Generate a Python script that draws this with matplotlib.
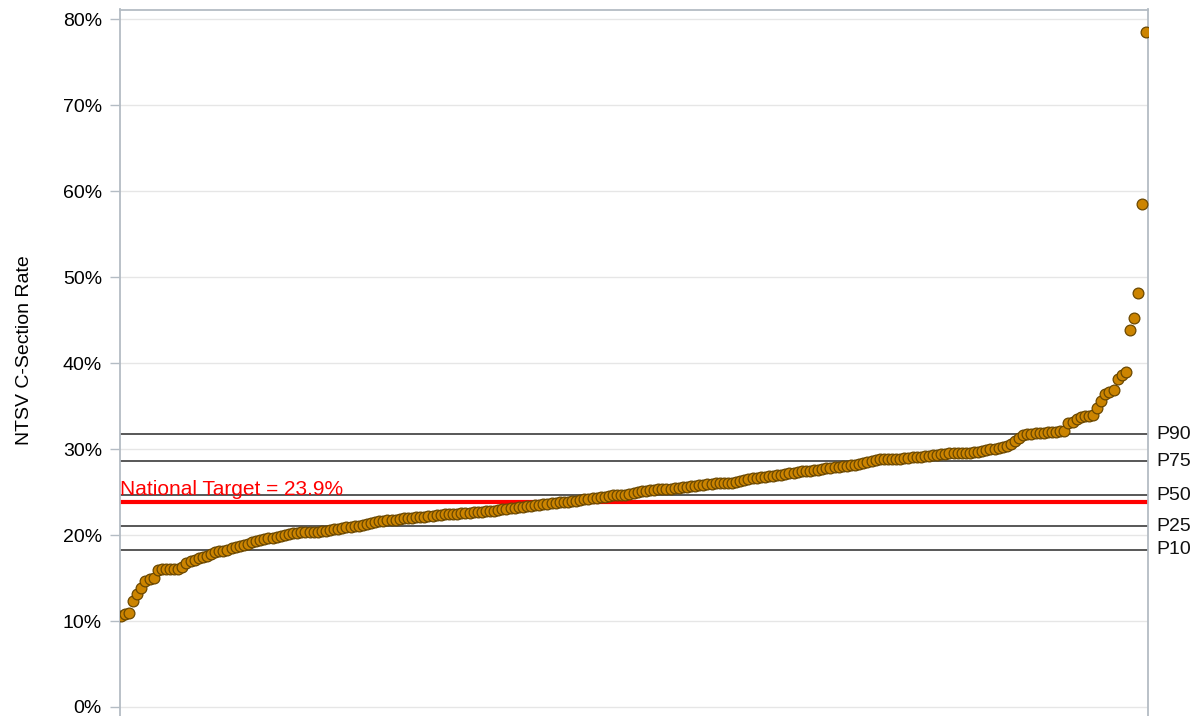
import numpy as np
import matplotlib
matplotlib.use("Agg")
import matplotlib.pyplot as plt
from matplotlib.ticker import FuncFormatter

plt.rcParams['font.family'] = ['Liberation Sans', 'DejaVu Sans']

# hospital NTSV C-section rates (%), sorted low to high
rates = [
    10.6, 10.8, 10.9, 12.3, 13.1, 13.8, 14.7, 14.9, 15.0, 15.9,
    16.0, 16.0, 16.0, 16.0, 16.1, 16.3, 16.8, 17.0, 17.1, 17.3,
    17.5, 17.6, 17.8, 18.0, 18.1, 18.2, 18.3, 18.5, 18.6, 18.7,
    18.8, 19.0, 19.2, 19.3, 19.4, 19.5, 19.6, 19.7, 19.8, 19.9,
    20.0, 20.1, 20.2, 20.2, 20.3, 20.3, 20.4, 20.4, 20.4, 20.5,
    20.5, 20.6, 20.7, 20.7, 20.8, 20.9, 20.9, 21.0, 21.1, 21.2,
    21.3, 21.4, 21.5, 21.6, 21.6, 21.7, 21.8, 21.8, 21.9, 22.0,
    22.0, 22.0, 22.1, 22.1, 22.1, 22.2, 22.2, 22.3, 22.3, 22.4,
    22.4, 22.5, 22.5, 22.6, 22.6, 22.6, 22.7, 22.7, 22.7, 22.8,
    22.8, 22.8, 22.9, 23.0, 23.0, 23.1, 23.2, 23.3, 23.3, 23.4,
    23.4, 23.5, 23.5, 23.6, 23.6, 23.7, 23.7, 23.8, 23.9, 23.9,
    24.0, 24.0, 24.1, 24.2, 24.2, 24.3, 24.3, 24.4, 24.4, 24.5,
    24.6, 24.6, 24.7, 24.7, 24.8, 24.9, 25.0, 25.1, 25.1, 25.2,
    25.2, 25.3, 25.3, 25.4, 25.4, 25.5, 25.5, 25.6, 25.6, 25.7,
    25.7, 25.8, 25.8, 25.9, 25.9, 26.0, 26.0, 26.0, 26.1, 26.1,
    26.2, 26.3, 26.4, 26.5, 26.6, 26.6, 26.7, 26.8, 26.9, 26.9,
    27.0, 27.0, 27.1, 27.2, 27.2, 27.3, 27.4, 27.4, 27.5, 27.6,
    27.6, 27.7, 27.8, 27.8, 27.9, 27.9, 28.0, 28.0, 28.1, 28.2,
    28.3, 28.4, 28.5, 28.6, 28.7, 28.8, 28.8, 28.8, 28.9, 28.9,
    28.9, 29.0, 29.0, 29.1, 29.1, 29.1, 29.2, 29.2, 29.3, 29.3,
    29.4, 29.4, 29.5, 29.5, 29.5, 29.6, 29.6, 29.6, 29.7, 29.7,
    29.8, 29.9, 30.0, 30.0, 30.1, 30.2, 30.4, 30.6, 30.9, 31.3,
    31.6, 31.7, 31.8, 31.9, 31.9, 31.9, 32.0, 32.0, 32.0, 32.1,
    32.1, 33.0, 33.2, 33.5, 33.7, 33.8, 33.9, 34.0, 34.8, 35.6,
    36.4, 36.6, 36.9, 38.2, 38.6, 39.0, 43.8, 45.3, 48.2, 58.5,
    78.5,
]

pct_labels = ['P10', 'P25', 'P50', 'P75', 'P90']
pct_values = [18.3, 21.0, 24.6, 28.6, 31.7]
target = 23.9

fig = plt.figure(figsize=(11.99, 7.16), dpi=100)
ax = fig.add_axes([120 / 1199, 0.0, 1028 / 1199, 1 - 9.5 / 716])

x = np.arange(len(rates))

ax.set_ylim(-1.05, 81.13)
ax.set_xlim(-0.2, len(rates) - 1 + 0.4)
ax.set_yticks(np.arange(0, 81, 10))
ax.yaxis.set_major_formatter(FuncFormatter(lambda v, p: '%d%%' % v))
ax.set_xticks([])
ax.grid(axis='y', color='#e6e6e6', linewidth=1.0)
ax.set_axisbelow(True)

for s in ['left', 'top', 'right']:
    ax.spines[s].set_color('#b4bcc4')
    ax.spines[s].set_linewidth(1.3)
ax.spines['bottom'].set_visible(False)
ax.tick_params(axis='y', length=7, width=1.0, color='#b4bcc4', labelsize=14, pad=6)

for lab, v in zip(pct_labels, pct_values):
    ax.axhline(v, color='#4a4a4a', linewidth=1.3, zorder=2)
    ax.text(1.008, v, lab, transform=ax.get_yaxis_transform(), ha='left',
            va='center', fontsize=14, color='#111111')

ax.axhline(target, color='#ff0000', linewidth=3.0, zorder=2)
ax.text(0.0, target + 0.7, 'National Target = 23.9%', color='#ff0000',
        fontsize=15, ha='left', va='baseline', transform=ax.get_yaxis_transform())

ax.scatter(x, rates, s=60, facecolor='#cc8400', edgecolor='#6b4800',
           linewidth=0.9, zorder=3)

ax.set_ylabel('NTSV C-Section Rate', fontsize=14)
ax.yaxis.set_label_coords(-0.0845, 0.518)

fig.savefig('out.png', dpi=100)
